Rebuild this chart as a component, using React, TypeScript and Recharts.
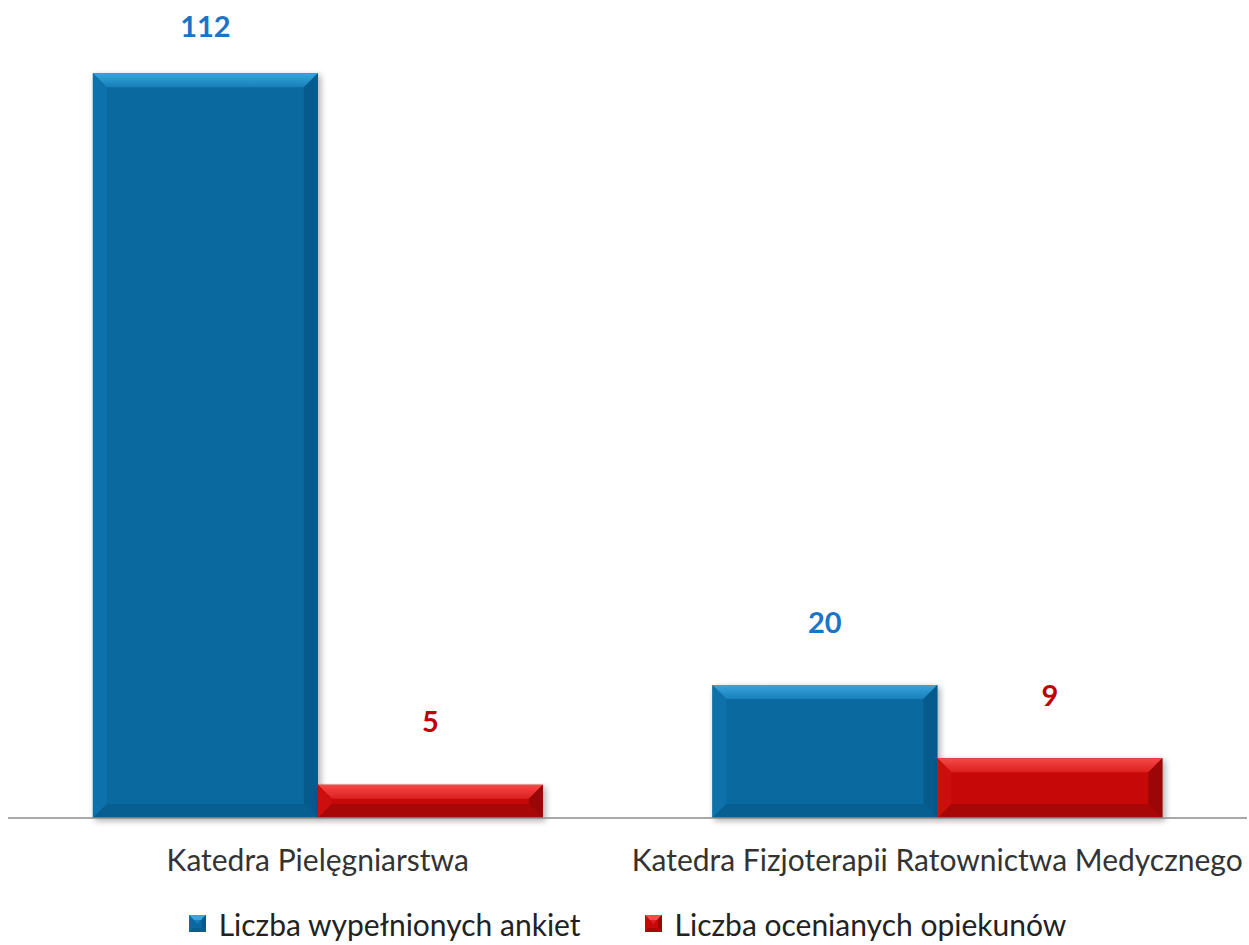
import { Bar, BarChart, LabelList, Legend, XAxis, YAxis } from 'recharts';

const categories = ['Katedra Pielęgniarstwa', 'Katedra Fizjoterapii Ratownictwa Medycznego'];
const ankiety = [112, 20];
const opiekunowie = [5, 9];
const seriesNames = ['Liczba wypełnionych ankiet', 'Liczba ocenianych opiekunów'];

const data = categories.map((name, i) => ({ name, ankiety: ankiety[i], opiekunowie: opiekunowie[i] }));

const palette = {
  blue: { id: 'b', main: '#0a6aa0', top1: '#3aa4dd', top2: '#1780ba', left: '#0e71a9', right: '#065b8c', bottom: '#075f91', label: '#1b74c6' },
  red: { id: 'r', main: '#c70808', top1: '#f44a48', top2: '#dc2020', left: '#cd0e0e', right: '#9c0606', bottom: '#a80707', label: '#c00000' },
};

const FONT = 'Lato, "Open Sans", sans-serif';

const bevelShape = (pal: typeof palette.blue) => (props: any) => {
  const { x, y, width: w, height: h } = props;
  if (!h || h <= 0) return null;
  const b = Math.min(14, h / 2, w / 2);
  return (
    <g>
      <rect x={x + 2} y={y + 2} width={w + 1} height={h + 1} fill="#000" opacity={0.3} filter="url(#barShadow)" />
      <rect x={x} y={y} width={w} height={h} fill={pal.main} />
      <polygon points={`${x},${y} ${x + w},${y} ${x + w - b},${y + b} ${x + b},${y + b}`} fill={`url(#top-${pal.id})`} />
      <polygon points={`${x},${y} ${x + b},${y + b} ${x + b},${y + h - b} ${x},${y + h}`} fill={pal.left} />
      <polygon points={`${x + w},${y} ${x + w},${y + h} ${x + w - b},${y + h - b} ${x + w - b},${y + b}`} fill={pal.right} />
      <polygon points={`${x},${y + h} ${x + b},${y + h - b} ${x + w - b},${y + h - b} ${x + w},${y + h}`} fill={pal.bottom} />
    </g>
  );
};

const valueLabel = (color: string) => (props: any) => {
  const { x, y, width, value } = props;
  const cy = Math.max(y - 64, 25);
  return (
    <text x={x + width / 2} y={cy} fill={color} fontSize={29} fontWeight={700} fontFamily={FONT} textAnchor="middle" dominantBaseline="central">
      {value}
    </text>
  );
};

const CategoryTick = (props: any) => {
  const { x, y, payload } = props;
  return (
    <text x={x} y={y + 45} fill="#333" fontSize={30} fontFamily={FONT} textAnchor="middle">
      {payload.value}
    </text>
  );
};

const LegendIcon = ({ pal }: { pal: typeof palette.blue }) => (
  <svg width={17} height={17} style={{ marginRight: 13 }}>
    <rect x={0} y={0} width={17} height={17} fill={pal.main} />
    <polygon points="0,0 17,0 12,5 5,5" fill={pal.top1} />
    <polygon points="5,5 12,5 8.5,9" fill={pal.top2} />
    <polygon points="0,17 17,17 13,13 4,13" fill={pal.bottom} />
    <polygon points="17,0 17,17 13,13 13,4" fill={pal.right} />
  </svg>
);

const renderLegend = () => (
  <div style={{ height: 57, display: 'flex', justifyContent: 'center', alignItems: 'center', gap: 64, fontFamily: FONT, fontSize: 30, color: '#222', paddingTop: 14, boxSizing: 'border-box' }}>
    <span style={{ display: 'flex', alignItems: 'center' }}>
      <LegendIcon pal={palette.blue} />
      {seriesNames[0]}
    </span>
    <span style={{ display: 'flex', alignItems: 'center' }}>
      <LegendIcon pal={palette.red} />
      {seriesNames[1]}
    </span>
  </div>
);

export default function App() {
  return (
    <div style={{ position: 'absolute', left: 0, top: 0, background: '#fff' }}>
      <BarChart width={1249} height={945} data={data} margin={{ top: 20, right: 2, bottom: 0, left: 8 }} barCategoryGap="13.7%" barGap={0}>
        <defs>
          <filter id="barShadow" x="-10%" y="-10%" width="130%" height="130%">
            <feGaussianBlur stdDeviation={3} />
          </filter>
          {[palette.blue, palette.red].map((p) => (
            <linearGradient key={p.id} id={`top-${p.id}`} x1="0" y1="0" x2="0" y2="1">
              <stop offset="0%" stopColor={p.top1} />
              <stop offset="100%" stopColor={p.top2} />
            </linearGradient>
          ))}
        </defs>
        <XAxis dataKey="name" height={70} tickLine={false} axisLine={{ stroke: '#8c8c8c', strokeWidth: 1.5 }} tick={<CategoryTick />} interval={0} />
        <YAxis hide domain={[0, 120]} />
        <Legend verticalAlign="bottom" height={57} content={renderLegend} />
        <Bar dataKey="ankiety" name={seriesNames[0]} fill={palette.blue.main} shape={bevelShape(palette.blue)} isAnimationActive={false}>
          <LabelList dataKey="ankiety" content={valueLabel(palette.blue.label)} />
        </Bar>
        <Bar dataKey="opiekunowie" name={seriesNames[1]} fill={palette.red.main} shape={bevelShape(palette.red)} isAnimationActive={false}>
          <LabelList dataKey="opiekunowie" content={valueLabel(palette.red.label)} />
        </Bar>
      </BarChart>
    </div>
  );
}
